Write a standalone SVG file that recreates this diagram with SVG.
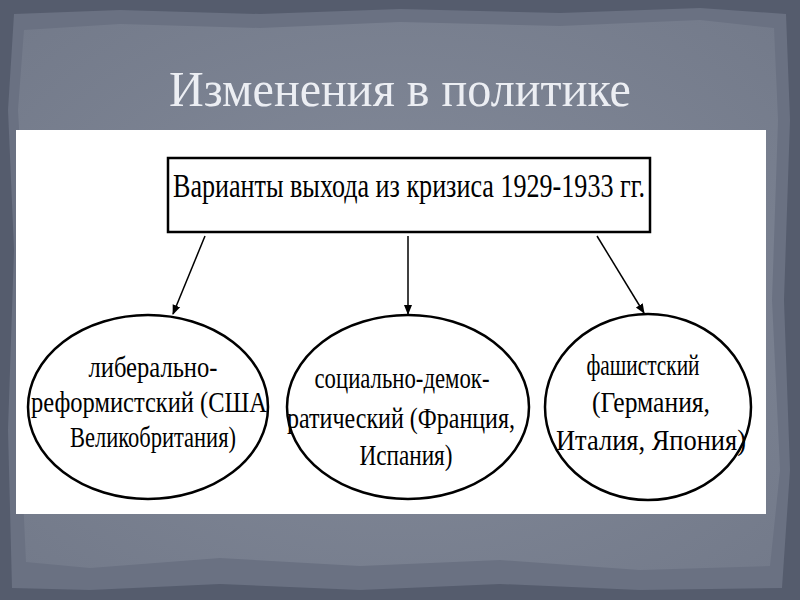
<svg xmlns="http://www.w3.org/2000/svg" width="800" height="600" viewBox="0 0 800 600">
<defs>
<style>
.t{font-family:"Liberation Serif","DejaVu Serif",serif;fill:#000;font-size:30px;text-anchor:middle}
.big{font-size:33px}
.node{fill:#fff;stroke:#000;stroke-width:2.5}
.conn{stroke:#000;stroke-width:1.5;fill:none;marker-end:url(#ah)}
</style>
<marker id="ah" markerWidth="10" markerHeight="10" refX="9" refY="5" orient="auto" markerUnits="userSpaceOnUse">
<path d="M0,1 L10,5 L0,9 Z" fill="#000"/>
</marker>
<radialGradient id="bg" cx="50%" cy="50%" r="70%">
<stop offset="0" stop-color="#858c9b"/>
<stop offset="1" stop-color="#737a8a"/>
</radialGradient>
</defs>
<rect x="0" y="0" width="800" height="600" fill="#555c6d"/>
<path d="M14,14 L120,10 L260,14 L400,9 L560,13 L700,8 L786,14 L790,120 L784,300 L790,470 L782,588 L640,590 L500,584 L360,590 L220,584 L90,590 L12,588 L8,430 L14,250 L8,110 Z" fill="#6a7182"/>
<path d="M24,30 L120,24 L260,28 L400,22 L560,26 L700,20 L774,28 L778,120 L772,300 L780,470 L770,566 L640,570 L500,560 L360,566 L220,558 L90,568 L26,562 L20,430 L26,250 L18,110 Z" fill="url(#bg)"/>
<text x="400" y="106" font-family="'Liberation Serif','DejaVu Serif',serif" font-size="50" fill="#eceef3" text-anchor="middle" textLength="462" lengthAdjust="spacingAndGlyphs">Изменения в политике</text>
<rect x="16" y="130" width="750" height="384" fill="#fff"/>
<g id="connectors">
<line class="conn" x1="205" y1="236" x2="173" y2="314"/>
<line class="conn" x1="408" y1="236" x2="408" y2="314"/>
<line class="conn" x1="597" y1="236" x2="644" y2="313"/>
</g>
<g id="root">
<rect class="node" x="168" y="158" width="482" height="74"/>
<text class="t big" x="409" y="197" textLength="472" lengthAdjust="spacingAndGlyphs">Варианты выхода из кризиса 1929-1933 гг.</text>
</g>
<g id="liberal">
<ellipse class="node" cx="148" cy="407" rx="120" ry="92"/>
<text class="t" x="153" y="377" textLength="129" lengthAdjust="spacingAndGlyphs">либерально-</text>
<text class="t" x="149" y="412" textLength="236" lengthAdjust="spacingAndGlyphs">реформистский (США</text>
<text class="t" x="153" y="447" textLength="166" lengthAdjust="spacingAndGlyphs">Великобритания)</text>
</g>
<g id="social">
<ellipse class="node" cx="408" cy="407" rx="121" ry="92"/>
<text class="t" x="402" y="388" textLength="175" lengthAdjust="spacingAndGlyphs">социально-демок-</text>
<text class="t" x="401" y="428" textLength="228" lengthAdjust="spacingAndGlyphs">ратический (Франция,</text>
<text class="t" x="406" y="465" textLength="93" lengthAdjust="spacingAndGlyphs">Испания)</text>
</g>
<g id="fascist">
<ellipse class="node" cx="648" cy="407" rx="103" ry="93"/>
<text class="t" x="643" y="375" textLength="113" lengthAdjust="spacingAndGlyphs">фашистский</text>
<text class="t" x="651" y="412" textLength="118" lengthAdjust="spacingAndGlyphs">(Германия,</text>
<text class="t" x="651" y="450" textLength="190" lengthAdjust="spacingAndGlyphs">Италия, Япония)</text>
</g>
</svg>
